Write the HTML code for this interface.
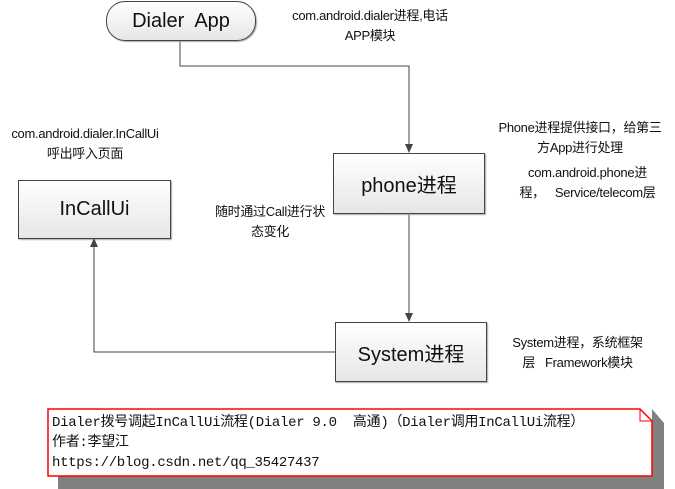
<!DOCTYPE html>
<html><head><meta charset="utf-8"><style>
body{margin:0;width:675px;height:489px;background:#fff;position:relative;overflow:hidden;font-family:"Liberation Sans","Noto Sans CJK SC",sans-serif;}
.t{position:absolute;font-size:13px;color:#111;text-align:center;line-height:20px;white-space:nowrap;letter-spacing:-0.3px}
.box{position:absolute;border:1px solid #444;background:linear-gradient(#fff,#e6e6e6);display:flex;align-items:center;justify-content:center;font-size:20px;color:#111;box-shadow:1px 1px 1px #aaa}
.mono{font-family:"Liberation Mono","Noto Sans CJK SC",monospace;font-size:14px;letter-spacing:-0.3px}
</style></head><body>
<svg width="675" height="489" style="position:absolute;left:0;top:0">
<polygon points="58,423 664,423 664,489 58,489" fill="#808080"/>
<polygon points="652,409 664,423 652,423" fill="#808080"/>
<polyline points="180,40 180,66 409,66 409,145" fill="none" stroke="#444" stroke-width="1"/>
<polygon points="405,144 413,144 409,153" fill="#444"/>
<line x1="409" y1="212" x2="409" y2="314" stroke="#444"/>
<polygon points="405,313 413,313 409,322" fill="#444"/>
<polygon points="48,409 640,409 652,421 652,476 48,476" fill="#fff" stroke="#f00" stroke-width="1.5"/>
<polyline points="640,409 640,421 652,421" fill="none" stroke="#f00" stroke-width="1"/>
</svg>
<div class="box" style="left:106px;top:1px;width:148px;height:38px;border-radius:19px;">Dialer&nbsp; App</div>
<div class="box" style="left:333px;top:153px;width:150px;height:59px;">phone进程</div>
<div class="box" style="left:18px;top:180px;width:151px;height:57px;">InCallUi</div>
<div class="box" style="left:335px;top:322px;width:150px;height:58px;">System进程</div>
<svg width="675" height="489" style="position:absolute;left:0;top:0">
<polyline points="335,352 94,352 94,246" fill="none" stroke="#444"/>
<polygon points="90,247 98,247 94,238" fill="#444"/>
</svg>
<div class="t" style="left:265px;top:6px;width:210px;">com.android.dialer进程,电话<br>APP模块</div>
<div class="t" style="left:0px;top:124px;width:170px;">com.android.dialer.InCallUi<br>呼出呼入页面</div>
<div class="t" style="left:485px;top:118px;width:190px;">Phone进程提供接口，给第三<br>方App进行处理</div>
<div class="t" style="left:500px;top:163px;width:175px;">com.android.phone进<br>程，&nbsp;&nbsp; Service/telecom层</div>
<div class="t" style="left:205px;top:202px;width:130px;">随时通过Call进行状<br>态变化</div>
<div class="t" style="left:490px;top:333px;width:175px;">System进程，系统框架<br>层&nbsp;&nbsp; Framework模块</div>
<div class="mono" style="position:absolute;left:52px;top:413px;line-height:20px;color:#111;white-space:nowrap">Dialer拨号调起InCallUi流程(Dialer 9.0&nbsp; 高通)（Dialer调用InCallUi流程）<br>作者:李望江<br>https://blog.csdn.net/qq_35427437</div>
</body></html>
